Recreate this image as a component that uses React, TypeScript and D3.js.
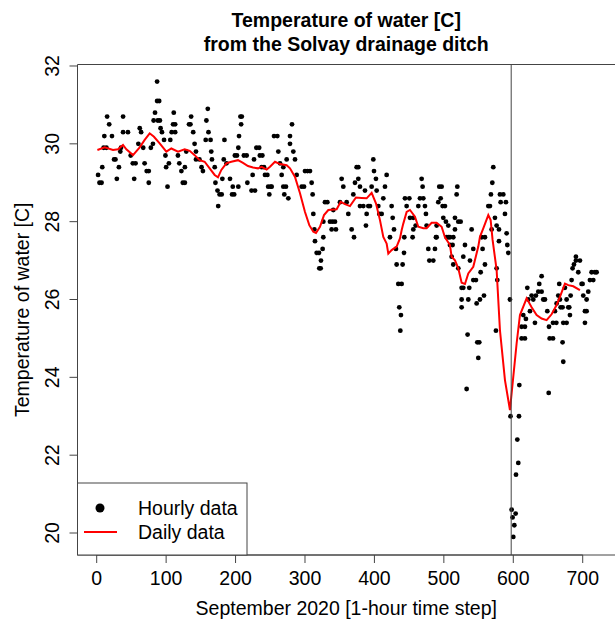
import React from "react";
import * as d3 from "d3";

// hourly readings [hour, temperature C]
const hourlyEarly: [number, number][] = [
  [2, 29.2], [4, 29.0], [7, 29.0], [8, 29.4], [10, 29.9], [14, 29.9], [15, 30.7], [18, 30.5],
  [11, 30.2], [22, 30.2], [25, 29.6], [27, 29.6], [29, 29.1], [32, 29.4], [34, 29.8], [38, 30.7],
  [38, 30.3], [45, 30.3], [35, 29.9], [49, 29.7], [52, 29.5], [56, 29.5], [54, 29.1], [60, 30.0],
  [62, 30.4], [64, 30.3], [67, 29.9], [69, 29.5], [72, 29.3], [75, 29.3], [75, 29.0], [78, 29.9],
  [81, 30.0], [82, 30.6], [84, 30.8], [87, 31.6], [87, 31.1], [90, 31.1], [88, 30.6], [91, 30.6],
  [92, 30.4], [94, 30.3], [97, 30.1], [99, 29.7], [100, 29.4], [102, 28.9], [104, 29.5], [106, 30.1],
  [108, 30.3], [113, 30.3], [110, 30.5], [113, 30.5], [111, 30.8], [117, 29.7], [119, 29.5], [122, 29.3],
  [124, 29.0], [127, 29.0], [127, 29.4], [129, 29.8], [133, 30.5], [135, 30.5], [136, 30.7], [139, 30.3],
  [141, 30.0], [143, 29.8], [143, 29.6], [148, 29.6], [151, 29.4], [153, 29.3], [157, 30.1], [164, 30.1],
  [158, 30.6], [160, 30.9], [161, 30.3], [165, 29.8], [166, 29.6], [170, 29.4], [171, 29.0], [174, 28.8],
  [177, 28.7], [180, 28.7], [175, 28.4], [181, 29.1], [184, 30.1], [183, 29.6], [187, 29.5], [192, 29.1],
  [195, 28.7], [198, 28.7], [196, 28.9], [204, 28.9], [199, 29.7], [202, 29.7], [204, 29.9], [205, 30.2],
  [207, 30.7], [209, 30.7], [208, 30.5], [212, 29.7], [216, 29.7], [217, 29.0],
];

const hourlyMiddle: [number, number][] = [
  [226.6, 29.6], [224.6, 29.2], [223, 28.8], [228, 28.8], [230, 29.9], [234, 29.9], [235, 29.7], [238.6, 29.7],
  [237.6, 29.4], [241, 29.4], [242.4, 29.2], [245.8, 29.2], [247, 28.9], [250.6, 28.9], [248.6, 28.7], [252, 28.9],
  [255.4, 30.2], [260.2, 30.2], [261.6, 29.8], [264, 29.5], [266.4, 29.2], [268.8, 29.4], [268.8, 28.9], [272.6, 28.9],
  [270.2, 28.7], [273.6, 29.6], [276, 28.6], [278.4, 30.2], [278.4, 30.0], [281.3, 30.5], [283.2, 29.8], [285.6, 29.6],
  [288, 29.2], [295.2, 28.9], [298.6, 28.9], [300, 29.3], [303.6, 29.3], [307.2, 29.3], [309.6, 29.0], [311, 28.7],
  [312, 28.2], [313.5, 27.8], [314.4, 27.5], [316.8, 27.2], [320.2, 27.2], [323, 27.0], [320.6, 26.8], [322.6, 26.8],
  [326.4, 27.6], [325.4, 27.3], [326.4, 28.0], [328.8, 28.5], [332.2, 28.5], [336, 28.0], [339.6, 28.0], [343.2, 28.0],
  [340.8, 28.3], [338.4, 27.8], [344.6, 27.8], [350.4, 28.5], [352.8, 29.1], [355.2, 28.9], [360, 28.5], [362.4, 28.2],
  [367.2, 27.8], [370.6, 27.6], [369.6, 28.7], [372, 29.0], [374.4, 29.4], [376.8, 29.4], [376.8, 29.1], [379.2, 28.9],
  [379.2, 28.4], [384, 28.4], [386.4, 28.8], [387.8, 27.9], [388.8, 28.2], [391.2, 28.4], [393.6, 28.4], [396, 28.9],
  [398.4, 29.6], [399.4, 29.3], [402.2, 29.1], [403.2, 28.8], [405.6, 28.4], [407, 28.2], [410.4, 28.2], [412.8, 28.6],
  [415.2, 28.9], [417.6, 29.2], [422.4, 27.6], [424.8, 28.4], [426.3, 28.1], [428.2, 27.8], [431, 27.3], [432, 26.9],
  [440.6, 26.9], [434.4, 26.4], [439.2, 26.4], [435.8, 25.8], [438.2, 25.6], [437.3, 25.2], [442.6, 27.2], [443, 27.6],
  [444, 28.6], [450.3, 28.6], [446.4, 28.4], [451.2, 28.1], [456, 28.1], [456, 27.8], [459.4, 27.9], [455, 27.6],
  [463.2, 28.4], [465.6, 28.6], [470.4, 28.6], [468, 29.1], [469.4, 28.9], [472.8, 28.4], [474.2, 28.2], [475.2, 27.9],
  [477.6, 27.3], [479.1, 27.0],
];

const hourlyLate: [number, number][] = [
  [489.6, 27.9], [488.6, 27.6], [493.4, 28.9], [496.8, 28.9], [495.4, 28.6], [492, 28.5], [498.2, 28.4], [501.6, 28.4],
  [499.2, 28.1], [503, 28.0], [506.4, 27.9], [504, 27.6], [508.8, 27.6], [513.6, 27.6], [516, 28.1], [519.4, 28.9],
  [518.4, 28.7], [520.8, 28.0], [524.2, 28.0], [540, 27.8], [554.4, 27.6], [559.2, 27.6], [564, 28.4], [566.4, 28.4],
  [567.8, 28.7], [569.8, 29.0], [571.2, 29.4], [573.6, 28.1], [576, 27.9], [579.4, 27.8], [580.8, 28.7], [585.6, 28.7],
  [581.8, 28.5], [588, 28.2], [589.4, 28.5], [590.4, 27.7],
  [487.2, 27.3], [484.8, 27.0], [489.6, 27.6], [506.4, 27.6], [508.8, 27.4], [512.6, 27.4], [511.2, 27.1], [513.6, 26.9],
  [516, 27.8], [520.8, 26.8], [525.6, 26.3], [528, 26.3], [528, 27.1], [530.4, 27.4], [525.6, 26.0], [525.6, 25.8],
  [535.2, 26.0], [536.6, 26.3], [534.2, 25.1], [532.8, 23.7], [537.6, 27.0], [542.4, 27.3], [542.4, 26.5], [546.2, 26.5],
  [547.2, 25.9], [548.2, 24.9], [551, 24.9], [549.6, 24.5], [552, 26.0], [553, 26.7], [555.8, 27.3], [557.8, 26.1],
  [559.2, 26.9], [568.8, 27.8], [575, 25.2], [576, 26.8], [577, 26.5], [579.4, 27.5], [591.4, 27.4], [592.8, 27.2],
  [595.2, 26.0],
];

const hourlyDrop: [number, number][] = [
  [596, 23.0], [608.2, 23.0], [605.8, 22.4], [607.2, 21.8], [603.9, 21.5], [597.6, 20.6], [603.4, 20.5], [599, 20.4],
  [601.5, 20.2], [600, 19.9],
];

const hourlyRecovery: [number, number][] = [
  [608.7, 23.8], [612, 25.3], [616.8, 25.3], [612, 25.0], [616.8, 25.0], [614.4, 25.6], [618.2, 25.5], [620.2, 26.3],
  [621.6, 26.0], [624, 25.7], [626.4, 26.1], [628.8, 26.0], [631.2, 25.4], [632.6, 26.1], [636, 26.2], [637.4, 26.4],
  [640.8, 26.2], [640.8, 26.6], [643.2, 26.0], [645.6, 26.0], [649, 25.7], [651.4, 25.3], [651, 23.6], [652.4, 25.0],
  [657.2, 25.0], [657.2, 25.4], [662, 25.4], [660, 25.7], [662.4, 25.9], [664.8, 26.1], [666.2, 26.4], [667.2, 26.0],
  [668.2, 25.8], [671, 25.8], [671, 24.9], [672, 24.4], [672, 25.4], [676.8, 25.4], [674.4, 26.3], [676.8, 26.0],
  [679.2, 25.8], [680.6, 25.8], [681.6, 25.6], [682.6, 26.1], [684, 26.5], [685.4, 26.8], [687.4, 26.9], [690.2, 27.0],
  [690.2, 27.1], [693.6, 26.7], [696, 27.0], [698.4, 26.4], [699.8, 26.4], [700.8, 26.1], [703.2, 25.7], [705.6, 25.7],
  [703.2, 25.4], [705.6, 26.0], [708, 26.2], [710.4, 26.5], [715.2, 26.5], [712.8, 26.7], [717.6, 26.7], [720, 26.7],
];

// daily (smoothed) series [hour, temperature C]
const daily: [number, number][] = [
  [1, 29.84], [11.5, 29.91], [23.5, 29.84], [30.7, 29.86], [37.9, 29.97], [42.7, 29.86], [52.3, 29.71], [61.9, 29.91],
  [69.1, 30.1], [76.3, 30.27], [82.5, 30.18], [90.7, 30.01], [100.3, 29.8], [107.5, 29.88], [117.1, 29.8], [126.7, 29.86],
  [133.9, 29.82], [141.1, 29.71], [148.3, 29.58], [155.5, 29.54], [162.7, 29.37], [169.9, 29.2], [174.7, 29.14], [179.5, 29.33],
  [186.7, 29.5], [193.9, 29.54], [203.5, 29.58], [210.7, 29.51], [217.9, 29.43], [225.1, 29.39], [232.3, 29.37], [237.6, 29.41],
  [244.8, 29.34], [249.6, 29.41], [256.8, 29.54], [264, 29.48], [273.6, 29.45], [278.4, 29.37], [285.6, 29.15], [292.8, 28.73],
  [300, 28.25], [306.2, 27.91], [312, 27.74], [315.8, 27.71], [321.6, 27.87], [327.4, 28.17], [333.6, 28.3], [345.6, 28.32],
  [351.4, 28.51], [357.6, 28.45], [364.8, 28.4], [373.4, 28.62], [381.6, 28.61], [388.8, 28.6], [396, 28.74], [402.2, 28.47],
  [408, 28.04], [412.8, 27.61], [417.6, 27.44], [420, 27.18], [424.8, 27.27], [432, 27.36], [436.8, 27.57], [439.2, 27.78],
  [441.6, 27.95], [446.4, 28.25], [451.2, 28.3], [458.4, 28.13], [463.2, 27.87], [470.4, 27.83], [475.2, 27.83], [482.4, 27.97],
  [489.6, 27.97], [496.8, 27.87], [501.6, 27.6], [508.8, 27.4], [511.2, 27.1], [516, 27.01], [520.8, 26.8], [525.6, 26.43],
  [530.4, 26.4], [535.2, 26.67], [542.4, 26.84], [549.6, 27.36], [552, 27.61], [556.8, 27.83], [564, 28.17], [567.4, 28.04],
  [570.2, 27.53], [576, 26.76], [580.8, 25.21], [588, 23.93], [595.2, 23.16], [604.8, 24.87], [609.6, 25.6], [619.2, 26.03],
  [626.4, 25.8], [633.6, 25.6], [640.8, 25.51], [648, 25.47], [655.2, 25.62], [662.4, 25.86], [667.2, 26.07], [674.4, 26.41],
  [679.2, 26.37], [686.4, 26.34], [696, 26.24],
];

const xTicks = [0, 100, 200, 300, 400, 500, 600, 700];
const yTicks = [20, 22, 24, 26, 28, 30, 32];
const markerHour = 597;

const FONT = "'Liberation Sans', Arial, Helvetica, sans-serif";
const FS = 19.5;

export default function App() {
  const W = 615;
  const H = 620;
  const left = 77.5, right = 615, top = 64.5, bottom = 555;

  const x = d3.scaleLinear().domain([-27.65, 746.5]).range([left, right]);
  const y = d3.scaleLinear().domain([19.435, 32.0385]).range([bottom, top]);

  const allPoints = [...hourlyEarly, ...hourlyMiddle, ...hourlyLate, ...hourlyDrop, ...hourlyRecovery];
  const line = d3.line<[number, number]>().x((d) => x(d[0])).y((d) => y(d[1]));
  const cx = (left + right) / 2;

  return (
    <div style={{ position: "absolute", left: 0, top: 0 }}>
      <svg width={W} height={H} style={{ display: "block", background: "#fff" }} fontFamily={FONT}>
        {/* title */}
        <text x={cx} y={27} textAnchor="middle" fontSize={FS} fontWeight="bold">Temperature of water [C]</text>
        <text x={cx} y={51} textAnchor="middle" fontSize={FS} fontWeight="bold">from the Solvay drainage ditch</text>

        {/* hourly points */}
        <g fill="#000">
          {allPoints.map((d, i) => (
            <circle key={i} cx={x(d[0])} cy={y(d[1])} r={2.4} />
          ))}
        </g>

        {/* daily line */}
        <path d={line(daily) || ""} fill="none" stroke="#ff0000" strokeWidth={2} />

        {/* marker line */}
        <line x1={x(markerHour)} x2={x(markerHour)} y1={top} y2={bottom} stroke="#444" strokeWidth={1} />

        {/* box (right side falls off the image) */}
        <path d={`M${right},${top}H${left}V${bottom}H${right}`} fill="none" stroke="#444" strokeWidth={1} />

        {/* x axis */}
        <g>
          <line x1={x(0)} x2={x(700)} y1={bottom} y2={bottom} stroke="#444" />
          {xTicks.map((t) => (
            <g key={t}>
              <line x1={x(t)} x2={x(t)} y1={bottom} y2={bottom + 8} stroke="#444" />
              <text x={x(t)} y={585} textAnchor="middle" fontSize={FS}>{t}</text>
            </g>
          ))}
          <text x={cx} y={615} textAnchor="middle" fontSize={FS}>September 2020 [1-hour time step]</text>
        </g>

        {/* y axis */}
        <g>
          {yTicks.map((t) => (
            <g key={t}>
              <line x1={left - 8} x2={left} y1={y(t)} y2={y(t)} stroke="#444" />
              <text transform={`translate(59,${y(t)}) rotate(-90)`} textAnchor="middle" fontSize={FS}>{t}</text>
            </g>
          ))}
          <text transform={`translate(29,${(top + bottom) / 2}) rotate(-90)`} textAnchor="middle" fontSize={FS}>
            Temperature of water [C]
          </text>
        </g>

        {/* legend */}
        <g>
          <rect x={left} y={483} width={247 - left} height={bottom - 483} fill="#fff" stroke="#444" />
          <circle cx={100} cy={508} r={4.5} fill="#000" />
          <text x={138} y={515} fontSize={FS}>Hourly data</text>
          <line x1={84} x2={117} y1={532} y2={532} stroke="#ff0000" strokeWidth={2} />
          <text x={138} y={539} fontSize={FS}>Daily data</text>
        </g>
      </svg>
    </div>
  );
}
